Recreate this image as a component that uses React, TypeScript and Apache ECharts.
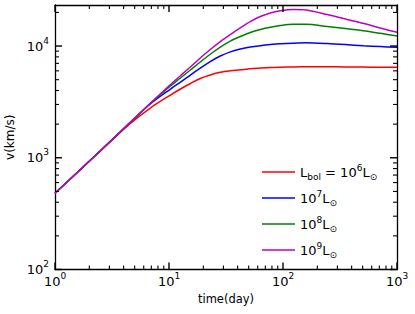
import React, { useEffect, useRef } from 'react';
import * as echarts from 'echarts';

const times = [1, 2.5, 4.58, 6.85, 10.3, 12.6, 15.4, 18.8, 23, 28.2, 34.5, 42.2, 51.6, 63.2, 77.4, 94.6, 123, 160, 244, 352, 506, 714, 1000];
const v1e6 = [481, 1149, 2025, 2787, 3643, 4124, 4618, 5120, 5502, 5817, 6000, 6124, 6265, 6356, 6435, 6475, 6502, 6516, 6516, 6502, 6489, 6462, 6449];
const v1e7 = [481, 1156, 2076, 3027, 4124, 4763, 5502, 6356, 7266, 8138, 8873, 9401, 9797, 10083, 10313, 10486, 10617, 10681, 10529, 10313, 10062, 9897, 9736];
const v1e8 = [481, 1156, 2076, 3059, 4387, 5172, 6099, 7192, 8446, 9797, 11085, 12162, 13209, 14050, 14733, 15256, 15640, 15640, 14945, 14343, 13706, 12990, 12288];
const v1e9 = [481, 1156, 2076, 3071, 4525, 5423, 6489, 7810, 9305, 10972, 12674, 14550, 16565, 18365, 19740, 20654, 21212, 20994, 19137, 17443, 15966, 14490, 13263];

const seriesNames = ['L6', 'L7', 'L8', 'L9'];
const seriesColors = ['#ff0000', '#0000ff', '#008000', '#bf00bf'];
const legendLabels: Record<string, string> = {
  L6: '{n|L}{sub|bol}{n| = 10}{sup|6}{n|L}{sub2|⊙}',
  L7: '{n|10}{sup|7}{n|L}{sub2|⊙}',
  L8: '{n|10}{sup|8}{n|L}{sub2|⊙}',
  L9: '{n|10}{sup|9}{n|L}{sub2|⊙}',
};

const X_MIN = 1;
const X_MAX = 1000;
const Y_MIN = 100;
const Y_MAX = 23300;
const xMajor = [1, 10, 100, 1000];
const xMinor = [2, 3, 4, 5, 6, 7, 8, 9, 20, 30, 40, 50, 60, 70, 80, 90, 200, 300, 400, 500, 600, 700, 800, 900];
const yMajor = [100, 1000, 10000];
const yMinor = [200, 300, 400, 500, 600, 700, 800, 900, 2000, 3000, 4000, 5000, 6000, 7000, 8000, 9000, 20000];

const MAJOR_LEN = 7;
const MINOR_LEN = 4;
const FONT = 'DejaVu Sans';

function powLabel(v: number) {
  const e = Math.round(Math.log10(v));
  if (Math.abs(Math.pow(10, e) - v) > 1e-6 * v) return '';
  return '{b|10}{s|' + e + '}';
}

const labelRich = {
  b: { fontSize: 13, lineHeight: 20, fontFamily: FONT, color: '#000' },
  s: { fontSize: 9, lineHeight: 8, verticalAlign: 'top', fontFamily: FONT, color: '#000' },
};

export default function App() {
  const ref = useRef<HTMLDivElement>(null);
  useEffect(() => {
    if (!ref.current) return;
    const chart = echarts.init(ref.current, null, { renderer: 'svg' });
    const axisLine = { show: true, lineStyle: { color: '#000', width: 1.3 } };

    const option: any = {
      animation: false,
      textStyle: { fontFamily: FONT },
      grid: { left: 55, right: 18, top: 5, bottom: 44.5, containLabel: false, outerBoundsMode: 'none' },
      legend: {
        orient: 'vertical',
        left: 257,
        top: 158,
        itemWidth: 33,
        itemHeight: 1.5,
        itemGap: 8,
        icon: 'rect',
        data: seriesNames,
        formatter: (name: string) => legendLabels[name],
        textStyle: {
          fontFamily: FONT,
          rich: {
            n: { fontSize: 13, lineHeight: 18, fontFamily: FONT, color: '#000' },
            sup: { fontSize: 9, lineHeight: 9, verticalAlign: 'top', fontFamily: FONT, color: '#000' },
            sub: { fontSize: 9, lineHeight: 12, verticalAlign: 'bottom', fontFamily: FONT, color: '#000' },
            sub2: { fontSize: 9, lineHeight: 9, verticalAlign: 'bottom', fontFamily: FONT, color: '#000' },
          },
        },
      },
      xAxis: [
        {
          type: 'log', logBase: 10, min: X_MIN, max: X_MAX, position: 'bottom', axisLine,
          splitLine: { show: false },
          axisTick: { show: false },
          axisLabel: { show: true, customValues: xMajor, margin: 2, formatter: powLabel, rich: labelRich },
          name: 'time(day)', nameLocation: 'middle', nameGap: 22,
          nameTextStyle: { fontFamily: FONT, fontSize: 11.5, color: '#000' },
        },
        {
          type: 'log', logBase: 10, min: X_MIN, max: X_MAX, position: 'top', axisLine,
          splitLine: { show: false }, axisTick: { show: false }, axisLabel: { show: false },
        },
      ],
      yAxis: [
        {
          type: 'log', logBase: 10, min: Y_MIN, max: Y_MAX, position: 'left', axisLine,
          splitLine: { show: false },
          axisTick: { show: false },
          axisLabel: { show: true, customValues: yMajor, margin: 6, formatter: powLabel, rich: labelRich },
          name: 'v(km/s)', nameLocation: 'middle', nameGap: 36, nameRotate: 90,
          nameTextStyle: { fontFamily: FONT, fontSize: 12, color: '#000' },
        },
        {
          type: 'log', logBase: 10, min: Y_MIN, max: Y_MAX, position: 'right', axisLine,
          splitLine: { show: false }, axisTick: { show: false }, axisLabel: { show: false },
        },
      ],
      series: [v1e6, v1e7, v1e8, v1e9].map((vals, i) => ({
        name: seriesNames[i],
        type: 'line',
        xAxisIndex: 0,
        yAxisIndex: 0,
        smooth: 0.3,
        symbol: 'none',
        showSymbol: false,
        color: seriesColors[i],
        lineStyle: { color: seriesColors[i], width: 1.5 },
        data: times.map((t, j) => [t, vals[j]]),
      })),
    };
    chart.setOption(option);

    // inward tick marks on all four sides, positioned through the chart's own log scales
    const yBottom = chart.convertToPixel({ yAxisIndex: 0 }, Y_MIN) as number;
    const yTop = chart.convertToPixel({ yAxisIndex: 0 }, Y_MAX) as number;
    const xLeft = chart.convertToPixel({ xAxisIndex: 0 }, X_MIN) as number;
    const xRight = chart.convertToPixel({ xAxisIndex: 0 }, X_MAX) as number;
    const ticks: any[] = [];
    const seg = (x1: number, y1: number, x2: number, y2: number, w: number) =>
      ticks.push({
        type: 'line',
        silent: true,
        z: 100,
        shape: { x1, y1, x2, y2 },
        style: { stroke: '#000', lineWidth: w },
      });
    const addX = (v: number, len: number, w: number) => {
      const x = chart.convertToPixel({ xAxisIndex: 0 }, v) as number;
      seg(x, yBottom, x, yBottom - len, w);
      seg(x, yTop, x, yTop + len, w);
    };
    const addY = (v: number, len: number, w: number) => {
      const y = chart.convertToPixel({ yAxisIndex: 0 }, v) as number;
      seg(xLeft, y, xLeft + len, y, w);
      seg(xRight, y, xRight - len, y, w);
    };
    xMajor.forEach((v) => addX(v, MAJOR_LEN, 1.4));
    xMinor.forEach((v) => addX(v, MINOR_LEN, 1.1));
    yMajor.forEach((v) => addY(v, MAJOR_LEN, 1.4));
    yMinor.forEach((v) => addY(v, MINOR_LEN, 1.1));
    chart.setOption({ graphic: { elements: ticks } });

    return () => chart.dispose();
  }, []);
  return <div ref={ref} style={{ position: 'fixed', left: 0, top: 0, width: 415, height: 314, background: '#fff' }} />;
}
